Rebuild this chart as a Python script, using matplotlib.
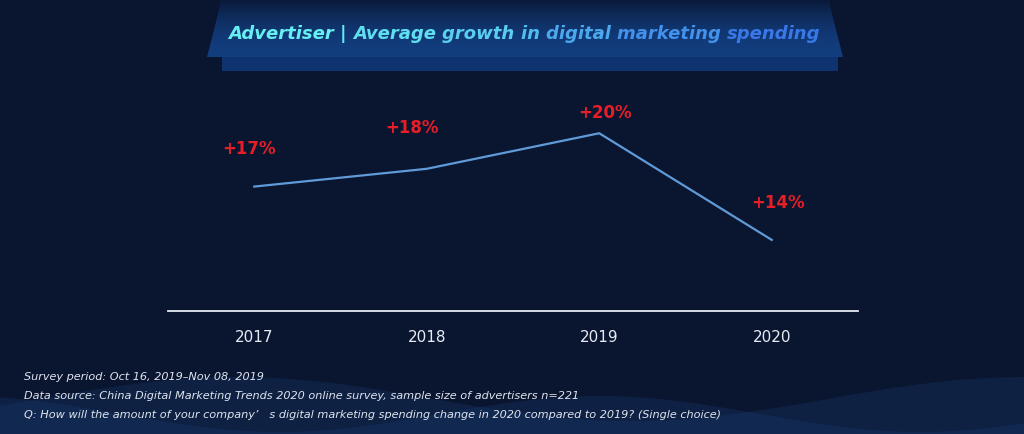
import numpy as np
import matplotlib
matplotlib.use("Agg")
from matplotlib import pyplot as plt
from matplotlib.patches import Polygon
import matplotlib.colors as mcolors

# data
years = ["2017", "2018", "2019", "2020"]
growth = [17, 18, 20, 14]
labels = ["+17%", "+18%", "+20%", "+14%"]

title_words = ["Advertiser", "|", "Average", "growth", "in", "digital", "marketing", "spending"]
notes = [
    "Survey period: Oct 16, 2019\u2013Nov 08, 2019",
    "Data source: China Digital Marketing Trends 2020 online survey, sample size of advertisers n=221",
    "Q: How will the amount of your company\u2019   s digital marketing spending change in 2020 compared to 2019? (Single choice)",
]

BG = "#0a1530"

fig = plt.figure(figsize=(10.24, 4.35), dpi=100)
fig.patch.set_facecolor(BG)

# background layer in pixel coords
bg = fig.add_axes([0, 0, 1, 1])
bg.set_xlim(0, 1024)
bg.set_ylim(435, 0)
bg.axis("off")

# soft waves at the bottom
xs = np.linspace(0, 1024, 300)
wave1 = 400 - 22 * np.sin((xs - 40) / 1024 * 2 * np.pi * 1.3)
wave2 = 415 - 18 * np.sin((xs + 200) / 1024 * 2 * np.pi * 1.6)
bg.fill_between(xs, wave1, 435, color="#13305c", alpha=0.45, lw=0)
bg.fill_between(xs, wave2, 435, color="#17386a", alpha=0.35, lw=0)

# title banner
bg.add_patch(Polygon([[222, 72], [838, 72], [838, 58], [222, 58]], closed=True,
                     facecolor="#0f3270", edgecolor="none"))
top_band = Polygon([[222, 0], [828, 0], [843, 58], [207, 58]], closed=True,
                   facecolor="#123d7e", edgecolor="none")
bg.add_patch(top_band)
grad = np.linspace(0, 1, 50).reshape(-1, 1)
fade = bg.imshow(grad, extent=[200, 850, 58, 0], cmap=mcolors.LinearSegmentedColormap.from_list(
    "fade", [BG, (0.07, 0.24, 0.49, 0)]), aspect="auto", zorder=3, alpha=0.9)
fade.set_clip_path(top_band)

# title text, colour shifts word by word
c0 = np.array(mcolors.to_rgb("#66f0f2"))
c1 = np.array(mcolors.to_rgb("#3a78e8"))
prev = None
for i, w in enumerate(title_words):
    col = c0 + (c1 - c0) * (i / (len(title_words) - 1)) ** 1.5
    s = w if i == len(title_words) - 1 else w + " "
    if prev is None:
        prev = bg.text(228, 39, s, color=col, fontsize=13, fontweight="bold",
                       fontstyle="italic", zorder=5)
    else:
        prev = bg.annotate(s, xy=(1, 0), xycoords=prev, va="bottom", color=col,
                           fontsize=13, fontweight="bold", fontstyle="italic", zorder=5)

# notes
for j, t in enumerate(notes):
    bg.text(24, 377 + 19 * j, t, color="#dfe4ee", fontsize=8.1, fontstyle="italic",
            va="center", ha="left")

# chart
ax = fig.add_axes([168 / 1024, 1 - 312 / 435, 690 / 1024, (312 - 98.7) / 435])
ax.patch.set_alpha(0)
x = np.arange(len(years))
ax.plot(x, growth, color="#5f9bd8", lw=1.6)
offsets = [(-5, 39), (-15, 42), (6, 21), (6, 38)]
for xi, v, lab, off in zip(x, growth, labels, offsets):
    ax.annotate(lab, (xi, v), xytext=off, textcoords="offset pixels", ha="center",
                va="center", color="#e61e28", fontsize=12, fontweight="bold")
ax.set_xlim(-0.5, 3.5)
ax.set_ylim(10, 22)
for s in ["top", "right", "left"]:
    ax.spines[s].set_visible(False)
ax.spines["bottom"].set_color("#e6ebf3")
ax.spines["bottom"].set_linewidth(1.3)
ax.set_yticks([])
ax.set_xticks(x)
ax.set_xticklabels(years, color="#e6ebf3", fontsize=11)
ax.tick_params(axis="x", length=0, pad=13)

plt.savefig("out.png", dpi=100, facecolor=fig.get_facecolor())
